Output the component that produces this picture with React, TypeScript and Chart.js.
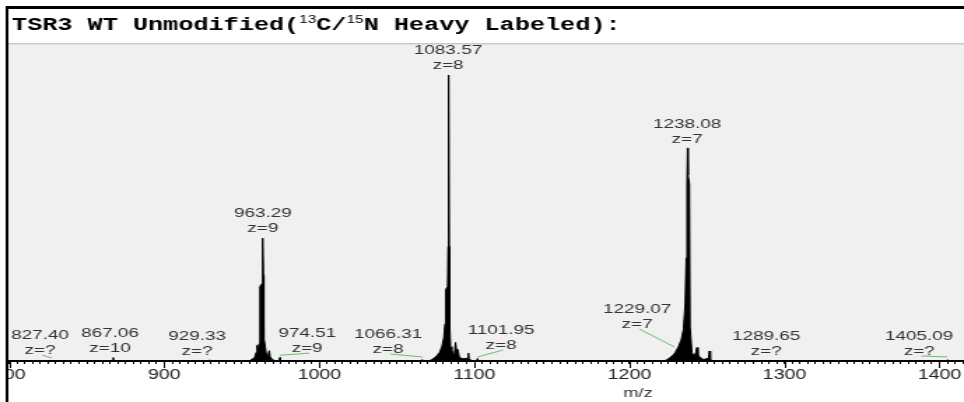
import React, { useEffect, useRef } from 'react';
import { Chart, registerables } from 'chart.js';

Chart.register(...registerables);

// ---------- data ----------
// profile spectrum: [m/z, relative intensity %]
const spectrum: [number, number][] = [
  [799.4, 0],
  [866.7, 0], [867.06, 1.2], [867.4, 0],
  [929.0, 0], [929.33, 0.4], [929.7, 0],
  [954.5, 0], [956.5, 0.6], [958.2, 1.2], [959.2, 3], [959.8, 5.5], [960.4, 3.5],
  [961.0, 6], [961.5, 9], [961.8, 26], [962.8, 27], [963.2, 30], [963.6, 43],
  [963.9, 30], [964.2, 8], [964.8, 6], [965.6, 3], [966.4, 2], [967.2, 3],
  [967.7, 3.6], [968.2, 1.5], [969.5, 0.6], [971.0, 0.2], [972.5, 0],
  [974.2, 0], [974.51, 1.2], [974.8, 0],
  [1066.0, 0], [1066.31, 0.5], [1066.6, 0],
  [1070.5, 0], [1072.5, 0.5], [1074.5, 1.2], [1076.0, 2], [1077.5, 3], [1079.0, 5],
  [1080.2, 8], [1081.0, 13], [1081.5, 25], [1082.7, 26], [1083.0, 40], [1083.35, 100],
  [1083.75, 40], [1084.1, 12], [1084.6, 5], [1085.4, 4], [1086.2, 2.5], [1087.0, 2],
  [1087.8, 6.5], [1088.4, 4], [1089.3, 4], [1090.2, 1.5], [1091.5, 1], [1093.0, 0.8],
  [1095.5, 1], [1096.1, 2.8], [1096.6, 0.8], [1098.0, 0.2], [1100.0, 0],
  [1101.7, 0], [1101.95, 0.8], [1102.2, 0],
  [1222.0, 0], [1224.5, 0.5], [1226.3, 1.3], [1228.0, 2], [1229.5, 3], [1231.6, 5],
  [1233.4, 7.5], [1234.8, 11], [1235.9, 20], [1236.6, 36], [1237.1, 62], [1237.5, 74.5],
  [1237.8, 65], [1238.7, 62], [1239.1, 12], [1240.3, 3], [1241.7, 1.6], [1242.8, 3],
  [1243.5, 4.7], [1244.2, 2.5], [1245.0, 1.6], [1247.7, 0.5], [1251.0, 1], [1251.6, 3.5],
  [1252.2, 0.5], [1254.0, 0],
  [1289.4, 0], [1289.65, 0.3], [1289.9, 0],
  [1404.8, 0], [1405.09, 0.4], [1405.4, 0],
  [1415.8, 0],
];

const peakMz = ['827.40', '867.06', '929.33', '963.29', '974.51', '1066.31', '1083.57', '1101.95', '1229.07', '1238.08', '1289.65', '1405.09'];
const peakCharge = ['?', '10', '?', '9', '9', '8', '8', '8', '7', '7', '?', '?'];
const peakHeight = [1, 1.2, 0.4, 43, 2, 1.4, 100, 1.4, 4.9, 74.5, 0.3, 1.4];

// annotation placement (data units) and leader flags
const labelAnchorMz = [819.8, 865.0, 921.1, 963.5, 992.1, 1044.3, 1083.0, 1117.2, 1205.0, 1237.2, 1288.2, 1386.9];
const labelAnchorLevel = [3.85, 4.5, 3.5, 46.5, 4.5, 4.2, 103.5, 5.6, 12.9, 77.6, 3.5, 3.5];
const hasLeader = [true, false, false, false, true, true, false, true, true, false, false, true];

const xMin = 799.4;
const xMax = 1415.8;
const yMax = 110.5;
const majorStep = 100;
const minorStep = 5;

const titleParts: [string, boolean][] = [
  ['TSR3 WT Unmodified(', false],
  ['13', true],
  ['C/', false],
  ['15', true],
  ['N Heavy Labeled):', false],
];
const xAxisTitle = 'm/z';

// ---------- drawing ----------
const CANVAS_W = 689;
const CANVAS_H = 402;

const decorPlugin = {
  id: 'decor',
  beforeDraw(chart: any) {
    const { ctx, chartArea: ca } = chart;
    const W = chart.width;
    ctx.save();
    ctx.fillStyle = '#ffffff';
    ctx.fillRect(0, 0, W, chart.height);
    ctx.fillStyle = '#f0f0f0';
    ctx.fillRect(ca.left, 44.5, W - ca.left, ca.bottom - 44.5);
    ctx.fillStyle = '#c8c8c8';
    ctx.fillRect(ca.left, 43, W - ca.left, 1.5);

    // title
    let x = 8.6;
    const y = 30;
    ctx.fillStyle = '#000';
    ctx.textBaseline = 'alphabetic';
    ctx.textAlign = 'left';
    for (const [t, sup] of titleParts) {
      ctx.font = sup
        ? '11px "Liberation Sans", Arial, sans-serif'
        : 'bold 18px "Courier New", "Liberation Mono", monospace';
      ctx.fillText(t, x, sup ? y - 7 : y);
      x += ctx.measureText(t).width;
    }
    ctx.restore();
  },
  afterDraw(chart: any) {
    const { ctx, chartArea: ca } = chart;
    const xs = chart.scales.x;
    const ys = chart.scales.y;
    ctx.save();

    // major tick extension
    ctx.strokeStyle = '#000';
    ctx.lineWidth = 1;
    for (const t of xs.ticks) {
      if (Math.abs(t.value % majorStep) < 1e-6) {
        const px = Math.round(xs.getPixelForValue(t.value)) + 0.5;
        ctx.beginPath();
        ctx.moveTo(px, ca.bottom);
        ctx.lineTo(px, ca.bottom + 7);
        ctx.stroke();
      }
    }

    // leaders
    ctx.strokeStyle = '#6cbf6c';
    ctx.lineWidth = 1;
    peakMz.forEach((m, i) => {
      if (!hasLeader[i]) return;
      const lx = xs.getPixelForValue(labelAnchorMz[i]) + 1.5;
      const ly = ys.getPixelForValue(labelAnchorLevel[i]) + 5;
      const px = xs.getPixelForValue(parseFloat(m));
      const py = ys.getPixelForValue(peakHeight[i]);
      ctx.beginPath();
      ctx.moveTo(lx, ly);
      ctx.lineTo(px, py);
      ctx.stroke();
    });

    // labels
    ctx.fillStyle = '#333';
    ctx.font = '13.5px "Liberation Sans", Arial, sans-serif';
    ctx.textAlign = 'center';
    ctx.textBaseline = 'middle';
    peakMz.forEach((m, i) => {
      const lx = xs.getPixelForValue(labelAnchorMz[i]);
      const ly = ys.getPixelForValue(labelAnchorLevel[i]);
      ctx.fillText(m, lx, ly - 15);
      ctx.fillText('z=' + peakCharge[i], lx, ly);
    });

    // axis title
    ctx.fillStyle = '#333';
    ctx.font = '13px "Liberation Sans", Arial, sans-serif';
    ctx.fillText(xAxisTitle, 456, 393);

    // left margin + frame
    ctx.fillStyle = '#ffffff';
    ctx.fillRect(0, 0, 4, chart.height);
    ctx.fillStyle = '#000';
    ctx.fillRect(4, 6, 2, chart.height - 6);
    ctx.fillRect(4, 6, chart.width - 4, 3);
    ctx.restore();
  },
};

export default function App() {
  const ref = useRef<HTMLCanvasElement>(null);
  useEffect(() => {
    if (!ref.current) return;
    const chart = new Chart(ref.current, {
      type: 'line',
      data: {
        datasets: [
          {
            data: spectrum.map(([x, y]) => ({ x, y })),
            borderColor: '#000',
            backgroundColor: '#000',
            borderWidth: 1,
            pointRadius: 0,
            tension: 0,
            fill: 'origin',
          },
        ],
      },
      options: {
        animation: false,
        responsive: false,
        devicePixelRatio: 1,
        events: [],
        layout: { padding: { left: 6, right: 0, top: 45, bottom: 0 } },
        plugins: {
          legend: { display: false },
          title: { display: false },
          tooltip: { enabled: false },
        },
        scales: {
          x: {
            type: 'linear',
            min: xMin,
            max: xMax,
            position: 'bottom',
            border: { display: true, color: '#000', width: 2 },
            grid: {
              display: true,
              drawOnChartArea: false,
              drawTicks: true,
              tickLength: 3,
              tickColor: '#000',
              tickWidth: 1,
            },
            ticks: {
              stepSize: minorStep,
              autoSkip: false,
              maxRotation: 0,
              minRotation: 0,
              includeBounds: false,
              padding: 3,
              color: '#222',
              font: { family: '"Liberation Sans", Arial, sans-serif', size: 14 },
              callback: (v: any) => (Math.abs(Number(v) % majorStep) < 1e-6 ? String(v) : ''),
            },
            afterFit: (scale: any) => {
              scale.height = 41;
              scale.paddingLeft = 0;
              scale.paddingRight = 0;
            },
          },
          y: {
            display: false,
            min: 0,
            max: yMax,
          },
        },
      },
      plugins: [decorPlugin],
    });
    return () => chart.destroy();
  }, []);

  return (
    <div style={{ position: 'absolute', left: 0, top: 0, width: 964, height: 402 }}>
      <canvas
        ref={ref}
        width={CANVAS_W}
        height={CANVAS_H}
        style={{ width: '964px', height: '402px', display: 'block' }}
      />
    </div>
  );
}
